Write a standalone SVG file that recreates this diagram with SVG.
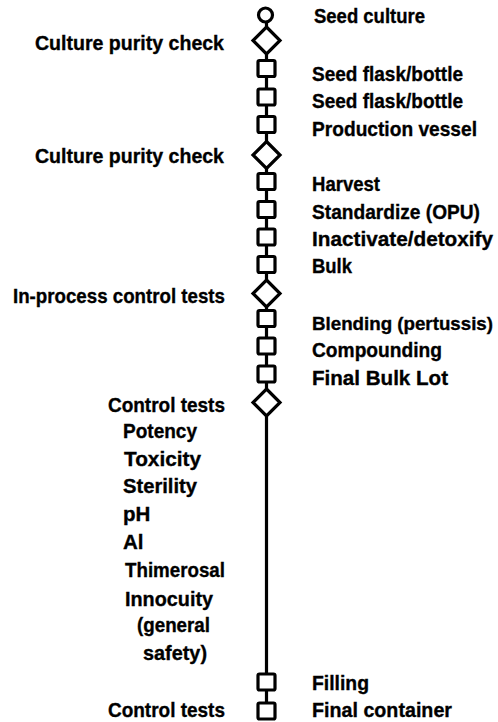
<svg xmlns="http://www.w3.org/2000/svg" width="498" height="722" viewBox="0 0 498 722">
<style>
  text { font-family: "Liberation Sans", Arial, sans-serif; font-weight: bold; font-size: 20.5px; fill: #000; stroke: #000; stroke-width: 0.35; }
  .shape { fill: #fff; stroke: #000; stroke-width: 3.2; stroke-linejoin: miter; }
  .sq { fill: #fff; stroke: #000; stroke-width: 3.2; }
  .conn { fill: none; stroke: #000; stroke-width: 3.2; }
</style>
<rect width="498" height="722" fill="#fff"/>
<g id="connectors">
  <path class="conn" d="M266.5 21.8V27.5 M266.5 53.5V61 M266.5 76V89.5 M266.5 104.5V117 M266.5 132V142 M266.5 168V174 M266.5 189V202 M266.5 217V229.5 M266.5 244.5V257 M266.5 272V280.5 M266.5 306.5V311 M266.5 326V338.5 M266.5 353.5V366.5 M266.5 381.5V389.5 M266.5 415.5V674.5 M266.5 689.5V703.5"/>
</g>
<g id="seed-culture">
  <circle class="shape" cx="265.5" cy="15" r="7"/>
  <text x="314" y="22.7" textLength="111" lengthAdjust="spacingAndGlyphs">Seed culture</text>
</g>
<g id="purity-check-1">
  <path class="shape" d="M266.5 27L280 40.5L266.5 54L253 40.5Z"/>
  <text x="35" y="50" textLength="189" lengthAdjust="spacingAndGlyphs">Culture purity check</text>
</g>
<g id="seed-flask-1">
  <rect class="sq" x="258" y="60.5" width="17" height="16" rx="1.5"/>
  <text x="312" y="81" textLength="151" lengthAdjust="spacingAndGlyphs">Seed flask/bottle</text>
</g>
<g id="seed-flask-2">
  <rect class="sq" x="258" y="89" width="17" height="16" rx="1.5"/>
  <text x="312" y="108" textLength="151" lengthAdjust="spacingAndGlyphs">Seed flask/bottle</text>
</g>
<g id="production-vessel">
  <rect class="sq" x="258" y="116.5" width="17" height="16" rx="1.5"/>
  <text x="312" y="136" textLength="165" lengthAdjust="spacingAndGlyphs">Production vessel</text>
</g>
<g id="purity-check-2">
  <path class="shape" d="M266.5 141.5L280 155L266.5 168.5L253 155Z"/>
  <text x="35" y="163" textLength="189" lengthAdjust="spacingAndGlyphs">Culture purity check</text>
</g>
<g id="harvest">
  <rect class="sq" x="258" y="173.5" width="17" height="16" rx="1.5"/>
  <text x="312" y="191" textLength="68" lengthAdjust="spacingAndGlyphs">Harvest</text>
</g>
<g id="standardize">
  <rect class="sq" x="258" y="201.5" width="17" height="16" rx="1.5"/>
  <text x="312" y="219" textLength="168" lengthAdjust="spacingAndGlyphs">Standardize (OPU)</text>
</g>
<g id="inactivate">
  <rect class="sq" x="258" y="229" width="17" height="16" rx="1.5"/>
  <text x="312" y="245.5" textLength="181" lengthAdjust="spacingAndGlyphs">Inactivate/detoxify</text>
</g>
<g id="bulk">
  <rect class="sq" x="258" y="256.5" width="17" height="16" rx="1.5"/>
  <text x="312" y="272.5" textLength="40" lengthAdjust="spacingAndGlyphs">Bulk</text>
</g>
<g id="in-process-tests">
  <path class="shape" d="M266.5 280L280 293.5L266.5 307L253 293.5Z"/>
  <text x="13" y="303" textLength="212" lengthAdjust="spacingAndGlyphs">In-process control tests</text>
</g>
<g id="blending">
  <rect class="sq" x="258" y="310.5" width="17" height="16" rx="1.5"/>
  <text x="312" y="330" style="font-size:18.8px" textLength="181" lengthAdjust="spacingAndGlyphs">Blending (pertussis)</text>
</g>
<g id="compounding">
  <rect class="sq" x="258" y="338" width="17" height="16" rx="1.5"/>
  <text x="312" y="357" textLength="130" lengthAdjust="spacingAndGlyphs">Compounding</text>
</g>
<g id="final-bulk-lot">
  <rect class="sq" x="258" y="366" width="17" height="16" rx="1.5"/>
  <text x="312" y="385" textLength="136" lengthAdjust="spacingAndGlyphs">Final Bulk Lot</text>
</g>
<g id="control-tests">
  <path class="shape" d="M266.5 389L280 402.5L266.5 416L253 402.5Z"/>
  <text x="108" y="411.5" textLength="117" lengthAdjust="spacingAndGlyphs">Control tests</text>
  <text x="123" y="438" textLength="74" lengthAdjust="spacingAndGlyphs">Potency</text>
  <text x="124" y="466" textLength="77" lengthAdjust="spacingAndGlyphs">Toxicity</text>
  <text x="123" y="493" textLength="74" lengthAdjust="spacingAndGlyphs">Sterility</text>
  <text x="123" y="521">pH</text>
  <text x="123" y="549">Al</text>
  <text x="125" y="577" textLength="100" lengthAdjust="spacingAndGlyphs">Thimerosal</text>
  <text x="125" y="606" textLength="88" lengthAdjust="spacingAndGlyphs">Innocuity</text>
  <text x="137" y="632" textLength="73" lengthAdjust="spacingAndGlyphs">(general</text>
  <text x="143" y="660" textLength="64" lengthAdjust="spacingAndGlyphs">safety)</text>
</g>
<g id="filling">
  <rect class="sq" x="258" y="674" width="17" height="16" rx="1.5"/>
  <text x="312" y="690" textLength="57" lengthAdjust="spacingAndGlyphs">Filling</text>
</g>
<g id="final-container">
  <rect class="sq" x="258" y="703" width="17" height="16" rx="1.5"/>
  <text x="312" y="717" textLength="140" lengthAdjust="spacingAndGlyphs">Final container</text>
  <text x="108" y="717" textLength="117" lengthAdjust="spacingAndGlyphs">Control tests</text>
</g>
</svg>
